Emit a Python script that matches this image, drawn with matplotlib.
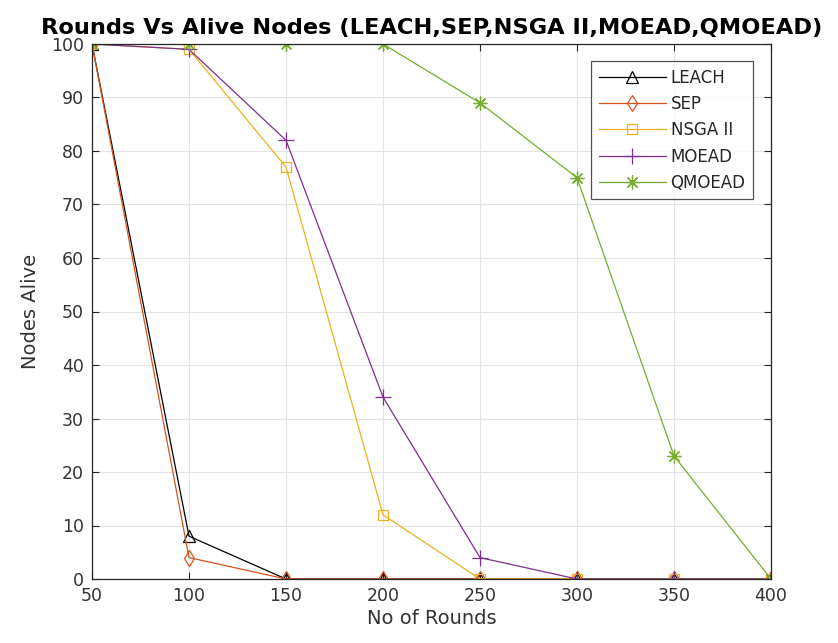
import matplotlib
matplotlib.use("Agg")
import matplotlib.pyplot as plt

rounds = [50, 100, 150, 200, 250, 300, 350, 400]
leach = [100, 8, 0, 0, 0, 0, 0, 0]
sep = [100, 4, 0, 0, 0, 0, 0, 0]
nsga2 = [100, 99, 77, 12, 0, 0, 0, 0]
moead = [100, 99, 82, 34, 4, 0, 0, 0]
qmoead = [100, 100, 100, 100, 89, 75, 23, 0]

labels = ["LEACH", "SEP", "NSGA II", "MOEAD", "QMOEAD"]
series = [leach, sep, nsga2, moead, qmoead]
colors = ["#000000", "#D95319", "#EDB120", "#7E2F8E", "#77AC30"]
markers = ["^", "d", "s", "+", (8, 2, 0)]
msizes = [8, 8, 7, 11, 10]

plt.rcParams['font.family'] = ['DejaVu Sans']
fig = plt.figure(figsize=(8.38, 6.43), dpi=100)
ax = fig.add_axes([92/838, 1 - 579/643, (771-92)/838, (579-44)/643])

for y, lab, c, m, ms in zip(series, labels, colors, markers, msizes):
    ax.plot(rounds, y, color=c, marker=m, markersize=ms, markerfacecolor='none',
            markeredgecolor=c, markeredgewidth=0.9, linewidth=0.9, label=lab)

ax.set_xlim(50, 400)
ax.set_ylim(0, 100)
ax.set_xticks(range(50, 401, 50))
ax.set_yticks(range(0, 101, 10))
ax.grid(True, color='#e3e3e3', linewidth=0.8)
ax.set_axisbelow(True)
ax.tick_params(direction='in', top=True, right=True, labelsize=12.5, colors='#262626',
               labelcolor='#333333', length=5, pad=6)
for s in ax.spines.values():
    s.set_color('#262626')
    s.set_linewidth(0.9)

ax.set_xlabel("No of Rounds", fontsize=14, color='#333333', labelpad=3)
ax.set_ylabel("Nodes Alive", fontsize=14, color='#333333', labelpad=8)
ax.set_title("Rounds Vs Alive Nodes (LEACH,SEP,NSGA II,MOEAD,QMOEAD)",
             fontsize=16.2, fontweight='bold', pad=7.5)

leg = ax.legend(loc='upper right', bbox_to_anchor=(0.9735, 0.968), fontsize=12,
                frameon=True, fancybox=False, edgecolor='#262626',
                handlelength=4.0, borderpad=0.45, labelspacing=0.5, handletextpad=0.3,
                borderaxespad=0)
for t in leg.get_texts():
    t.set_color('#262626')
leg.get_frame().set_linewidth(0.9)

fig.savefig("out.png", dpi=100)
